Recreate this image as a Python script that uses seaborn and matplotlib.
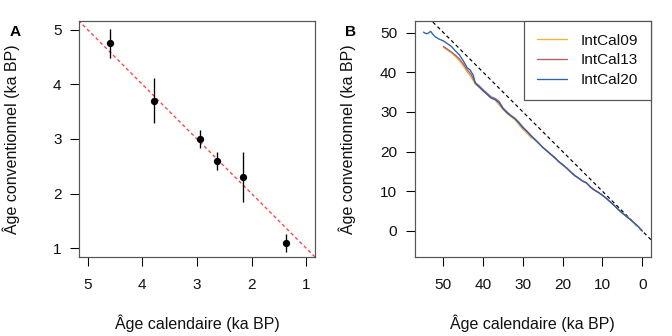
import numpy as np
import pandas as pd
import matplotlib
matplotlib.use("Agg")
import matplotlib.pyplot as plt
import seaborn as sns

# ---- Panel A: dated samples (ka BP) ----
cal_age = [4.60, 3.79, 2.94, 2.63, 2.16, 1.38]
conv_age = [4.75, 3.70, 3.00, 2.60, 2.30, 1.10]
conv_err = [0.26, 0.41, 0.17, 0.16, 0.46, 0.16]
a_ticks = [5, 4, 3, 2, 1]

# ---- Panel B: calibration curves (cal ka BP -> 14C ka BP) ----
cal20_x = [55.0, 54.3, 53.8, 53.2, 52.6, 52.0, 51.0, 50.0, 49.0, 48.0, 47.0, 46.0,
           45.0, 44.0, 43.3, 42.5, 42.0, 41.0, 40.0, 39.0, 38.0, 37.0, 36.0, 35.0,
           34.0, 33.0, 32.0, 31.0, 30.0, 29.0, 28.0, 27.0, 26.0, 25.0, 24.0, 23.0,
           22.0, 21.0, 20.0, 19.0, 18.0, 17.0, 16.0, 15.0, 14.0, 13.0, 12.0, 11.0,
           10.0, 9.0, 8.0, 7.0, 6.0, 5.0, 4.0, 3.0, 2.0, 1.0, 0.0]
cal20_y = [50.1, 49.7, 49.8, 50.3, 49.5, 48.9, 48.3, 47.9, 47.2, 46.5, 45.4, 44.4,
           42.9, 41.1, 40.6, 39.3, 37.3, 36.3, 35.3, 34.4, 33.5, 33.1, 32.3, 30.8,
           29.8, 29.0, 28.3, 27.2, 26.0, 25.1, 24.0, 23.1, 22.1, 21.0, 20.2, 19.3,
           18.5, 17.5, 16.7, 15.9, 14.9, 14.0, 13.3, 12.6, 12.1, 11.0, 10.3, 9.7,
           9.0, 8.2, 7.3, 6.4, 5.4, 4.5, 3.7, 2.9, 2.0, 1.1, 0.0]

cal13_x = [50.0, 49.0, 48.0, 47.0, 46.0, 45.0, 44.0, 43.0, 42.0, 41.0, 40.0, 39.0,
           38.0, 37.0, 36.0, 35.0, 34.0, 33.0, 32.0, 31.0, 30.0, 29.0, 28.0, 27.0,
           26.0, 25.0, 24.0, 23.0, 22.0, 21.0, 20.0, 19.0, 18.0, 17.0, 16.0, 15.0,
           14.0, 13.0, 12.0, 11.0, 10.0, 9.0, 8.0, 7.0, 6.0, 5.0, 4.0, 3.0, 2.0,
           1.0, 0.0]
cal13_y = [46.5, 45.8, 45.1, 44.3, 43.4, 42.1, 40.6, 39.4, 37.4, 36.6, 35.6, 34.7,
           33.8, 33.4, 32.7, 31.0, 30.0, 29.1, 28.4, 27.4, 26.2, 25.2, 24.1, 23.1,
           22.1, 21.1, 20.2, 19.3, 18.4, 17.5, 16.7, 15.8, 14.9, 14.0, 13.3, 12.6,
           12.1, 11.1, 10.3, 9.7, 9.0, 8.2, 7.3, 6.4, 5.4, 4.5, 3.7, 2.9, 2.0,
           1.1, 0.0]

cal09_x = [50.0, 49.0, 48.0, 47.0, 46.0, 45.0, 44.0, 43.0, 42.0, 41.0, 40.0, 39.0,
           38.0, 37.0, 36.0, 35.0, 34.0, 33.0, 32.0, 31.0, 30.0, 29.0, 28.0, 27.0,
           26.0, 25.0, 24.0, 23.0, 22.0, 21.0, 20.0, 19.0, 18.0, 17.0, 16.0, 15.0,
           14.0, 13.0, 12.0, 11.0, 10.0, 9.0, 8.0, 7.0, 6.0, 5.0, 4.0, 3.0, 2.0,
           1.0, 0.0]
cal09_y = [46.3, 45.6, 44.9, 44.0, 42.9, 41.6, 40.1, 38.8, 37.0, 36.2, 35.3, 34.4,
           33.5, 33.0, 31.8, 30.6, 29.6, 28.8, 28.0, 26.8, 25.6, 24.6, 23.6, 22.9,
           22.0, 21.1, 20.3, 19.4, 18.6, 17.4, 16.6, 15.8, 14.8, 13.9, 13.3, 12.6,
           12.1, 11.0, 10.3, 9.7, 9.0, 8.2, 7.3, 6.4, 5.4, 4.5, 3.7, 2.9, 2.0,
           1.1, 0.0]
b_ticks = [50, 40, 30, 20, 10, 0]

curve_names = ["IntCal09", "IntCal13", "IntCal20"]
curve_colors = ["#EDB33B", "#B55C6A", "#2B62AE"]

sns.set_theme(style="white")
plt.rcParams["font.family"] = ["Liberation Sans", "DejaVu Sans"]
FS = 11.5
plt.rcParams["font.size"] = FS

fig = plt.figure(figsize=(7, 3.5), dpi=96)
W, H = 672, 336
axA = fig.add_axes([79 / W, 1 - 257 / H, (315 - 79) / W, (257 - 21) / H])
axB = fig.add_axes([414.7 / W, 1 - 257 / H, (651 - 414.7) / W, (257 - 21) / H])

box_col = "#555555"
text_col = "#111111"


def style_axes(ax):
    for sp in ax.spines.values():
        sp.set_visible(True)
        sp.set_color(box_col)
        sp.set_linewidth(0.9)
    ax.tick_params(axis="both", which="both", direction="out", length=7,
                   width=0.8, color="black", labelsize=FS, labelcolor=text_col,
                   bottom=True, left=True)
    ax.tick_params(axis="x", pad=9)
    ax.tick_params(axis="y", pad=6)
    ax.grid(False)
    ax.set_xlabel("")
    ax.set_ylabel("")


# ---- Panel A ----
dfA = pd.DataFrame({"cal": cal_age, "conv": conv_age, "err": conv_err})
axA.axline((0, 0), slope=1, color="#FF4444", lw=1.0, dashes=(2.6, 2.0), zorder=1)
axA.errorbar(dfA["cal"], dfA["conv"], yerr=dfA["err"], fmt="none",
             ecolor="black", elinewidth=1.0, capsize=0, zorder=2)
sns.scatterplot(data=dfA, x="cal", y="conv", ax=axA, color="black", s=30,
                edgecolor="black", linewidth=0, zorder=3, legend=False)
axA.set_xlim(5.16, 0.84)
axA.set_ylim(0.84, 5.16)
axA.set_xticks(a_ticks)
axA.set_yticks(a_ticks)
axA.set_xticklabels([str(t) for t in a_ticks])
axA.set_yticklabels([str(t) for t in a_ticks])
style_axes(axA)

# ---- Panel B ----
frames = []
for name, xs, ys in [("IntCal09", cal09_x, cal09_y),
                     ("IntCal13", cal13_x, cal13_y),
                     ("IntCal20", cal20_x, cal20_y)]:
    frames.append(pd.DataFrame({"cal": xs, "c14": ys, "curve": name}))
dfB = pd.concat(frames, ignore_index=True)

axB.axline((0, 0), slope=1, color="black", lw=0.9, dashes=(3.0, 2.4), zorder=1)
sns.lineplot(data=dfB, x="cal", y="c14", hue="curve", hue_order=curve_names,
             palette=curve_colors, sort=False, estimator=None, lw=1.0,
             ax=axB, zorder=2)
axB.set_xlim(57.2, -2.2)
axB.set_ylim(-6.55, 52.9)
axB.set_xticks(b_ticks)
axB.set_yticks(b_ticks)
axB.set_xticklabels([str(t) for t in b_ticks])
axB.set_yticklabels([str(t) for t in b_ticks])
style_axes(axB)

leg = axB.legend(loc="upper right", bbox_to_anchor=(1.0, 1.0), borderaxespad=0,
                 fancybox=False, framealpha=1, edgecolor=box_col, fontsize=FS,
                 handlelength=1.96, handletextpad=0.91, borderpad=0.82,
                 labelspacing=0.38, title=None)
leg.get_frame().set_linewidth(0.9)
for line in leg.get_lines():
    line.set_linewidth(1.0)
for t in leg.get_texts():
    t.set_color(text_col)

# ---- Axis titles and panel letters ----
for ax, letter, lx, ylx in [(axA, "A", 15, 11), (axB, "B", 351, 347)]:
    pos = ax.get_position()
    fig.text((pos.x0 + pos.x1) / 2, 1 - 323 / H, "Âge calendaire (ka BP)",
             ha="center", va="center", fontsize=FS + 0.5, color=text_col)
    fig.text(ylx / W, (pos.y0 + pos.y1) / 2, "Âge conventionnel (ka BP)",
             rotation=90, ha="center", va="center", fontsize=FS + 0.5,
             color=text_col)
    fig.text(lx / W, 1 - 32 / H, letter, ha="center", va="center",
             fontsize=FS, fontweight="bold", color="black")

fig.savefig("out.png", dpi=96)
